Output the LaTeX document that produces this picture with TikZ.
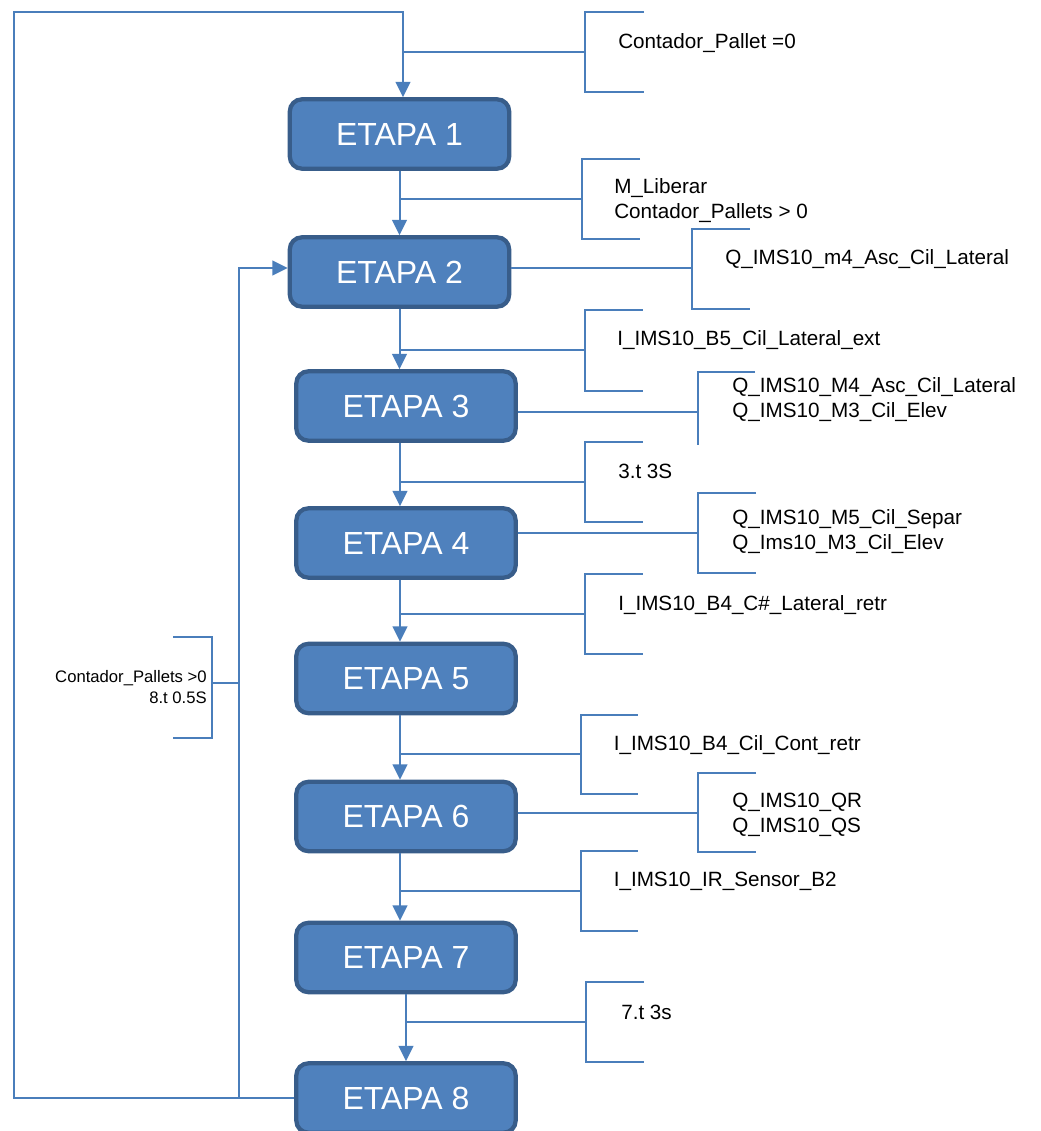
\documentclass[tikz,border=0pt]{standalone}
\usepackage{fontspec}
\setmainfont{Liberation Sans}
\usetikzlibrary{arrows.meta, calc}
\definecolor{etapafill}{HTML}{4F81BD}
\definecolor{etapaedge}{HTML}{385D8A}
\definecolor{linea}{HTML}{4A7EBB}

\begin{document}
\begin{tikzpicture}[
        x=0.75pt, y=-0.75pt,
        etapa/.style={draw=etapaedge, line width=3.2pt, fill=etapafill, rounded corners=9pt, text=white,
            font=\fontsize{24}{28}\selectfont, minimum width=164.5pt, minimum height=52pt, inner sep=0pt},
        ln/.style={draw=linea, line width=1.5pt},
        arr/.style={ln, -{Triangle[length=11.5pt, width=11pt]}},
        lbl/.style={font=\fontsize{15.5}{18.75}\selectfont, align=left, anchor=west, inner sep=0pt},
        lbls/.style={font=\fontsize{12.5}{15.75}\selectfont, align=right, anchor=east, inner sep=0pt}
    ]
        \useasboundingbox (0,0) rectangle (1040,1131);

        \node[etapa] (e1) at (399.5,134) {ETAPA 1};
        \node[etapa] (e2) at (399.5,272) {ETAPA 2};
        \node[etapa] (e3) at (406,406) {ETAPA 3};
        \node[etapa] (e4) at (406,543) {ETAPA 4};
        \node[etapa] (e5) at (406,678.5) {ETAPA 5};
        \node[etapa] (e6) at (406,816.5) {ETAPA 6};
        \node[etapa] (e7) at (406,957.5) {ETAPA 7};
        \node[etapa] (e8) at (406,1098) {ETAPA 8};

        % columnas de las lineas
        \coordinate (col) at (400,0);
        \coordinate (izq) at (14,12);
        \coordinate (arriba) at (403,12);
        \coordinate (ret) at (239,0);

        % secuencia
        \draw[arr] (e8.west) -| (izq) |- (arriba) -- (e1.north -| arriba);
        \draw[arr] (e1.south) -- (e2.north);
        \draw[arr] (e2.south) -- (e3.north -| e2.south);
        \draw[arr] (e3.south -| col) -- (e4.north -| col);
        \draw[arr] (e4.south -| col) -- (e5.north -| col);
        \draw[arr] (e5.south -| col) -- (e6.north -| col);
        \draw[arr] (e6.south -| col) -- (e7.north -| col);
        \draw[arr] (e7.south) -- (e8.north);
        \draw[arr] (e8.west -| ret) |- ([yshift=3pt]e2.west);

        % transiciones y acciones
        \coordinate (t0) at (585,52);
        \draw[ln] (arriba |- t0) -- (t0) ++(59,-40) -- ++(-59,0) -- ++(0,80) -- ++(59,0);
        \coordinate (t1) at (582,199);
        \draw[ln] (col |- t1) -- (t1) ++(58,-40) -- ++(-58,0) -- ++(0,80) -- ++(58,0);
        \coordinate (a2) at (692,268);
        \draw[ln] (e2.east |- a2) -- (a2) ++(58,-39) -- ++(-58,0) -- ++(0,80) -- ++(58,0);
        \coordinate (t2) at (584.5,350);
        \draw[ln] (col |- t2) -- (t2) ++(58,-40) -- ++(-58,0) -- ++(0,81) -- ++(58,0);
        \coordinate (a3) at (698,412);
        \draw[ln] (e3.east |- a3) -- (a3) ++(57,-40) -- ++(-57,0) -- ++(0,73);
        \coordinate (t3) at (584.5,482);
        \draw[ln] (col |- t3) -- (t3) ++(58,-40) -- ++(-58,0) -- ++(0,80) -- ++(58,0);
        \coordinate (a4) at (698,533);
        \draw[ln] (e4.east |- a4) -- (a4) ++(58,-40) -- ++(-58,0) -- ++(0,80) -- ++(58,0);
        \coordinate (t4) at (584.5,614);
        \draw[ln] (col |- t4) -- (t4) ++(58,-40) -- ++(-58,0) -- ++(0,80) -- ++(58,0);
        \coordinate (t5) at (580.5,754);
        \draw[ln] (col |- t5) -- (t5) ++(57,-39) -- ++(-57,0) -- ++(0,79) -- ++(57,0);
        \coordinate (a6) at (698,813);
        \draw[ln] (e6.east |- a6) -- (a6) ++(58,-40) -- ++(-58,0) -- ++(0,79) -- ++(58,0);
        \coordinate (t6) at (580.5,891);
        \draw[ln] (col |- t6) -- (t6) ++(57,-40) -- ++(-57,0) -- ++(0,80) -- ++(57,0);
        \coordinate (t7) at (586,1022);
        \draw[ln] (e7.south |- t7) -- (t7) ++(58,-40) -- ++(-58,0) -- ++(0,80) -- ++(58,0);
        \coordinate (l8) at (212,683);
        \draw[ln] (ret |- l8) -- (l8) ++(-39,-46) -- ++(39,0) -- ++(0,101) -- ++(-39,0);

        % textos
        \node[lbl] (c0) at (618,43) {Contador\_Pallet =0};
        \node[lbl] (c1) at (614,201) {M\_Liberar\\Contador\_Pallets > 0};
        \node[lbl] (c2) at (725,259) {Q\_IMS10\_m4\_Asc\_Cil\_Lateral};
        \node[lbl] (c3) at (617,340) {I\_IMS10\_B5\_Cil\_Lateral\_ext};
        \node[lbl] (c4) at (732,400) {Q\_IMS10\_M4\_Asc\_Cil\_Lateral\\Q\_IMS10\_M3\_Cil\_Elev};
        \node[lbl] (c5) at (618,471) {3.t 3S};
        \node[lbl] (c6) at (732,532) {Q\_IMS10\_M5\_Cil\_Separ\\Q\_Ims10\_M3\_Cil\_Elev};
        \node[lbl] (c7) at (618,605) {I\_IMS10\_B4\_C\#\_Lateral\_retr};
        \node[lbl] (c8) at (613.5,745) {I\_IMS10\_B4\_Cil\_Cont\_retr};
        \node[lbl] (c9) at (732,815) {Q\_IMS10\_QR\\Q\_IMS10\_QS};
        \node[lbl] (c10) at (613.5,881) {I\_IMS10\_IR\_Sensor\_B2};
        \node[lbl] (c11) at (621,1012) {7.t 3s};
        \node[lbls] (c12) at (207,687) {Contador\_Pallets >0\\8.t 0.5S};
    \end{tikzpicture}
\end{document}
